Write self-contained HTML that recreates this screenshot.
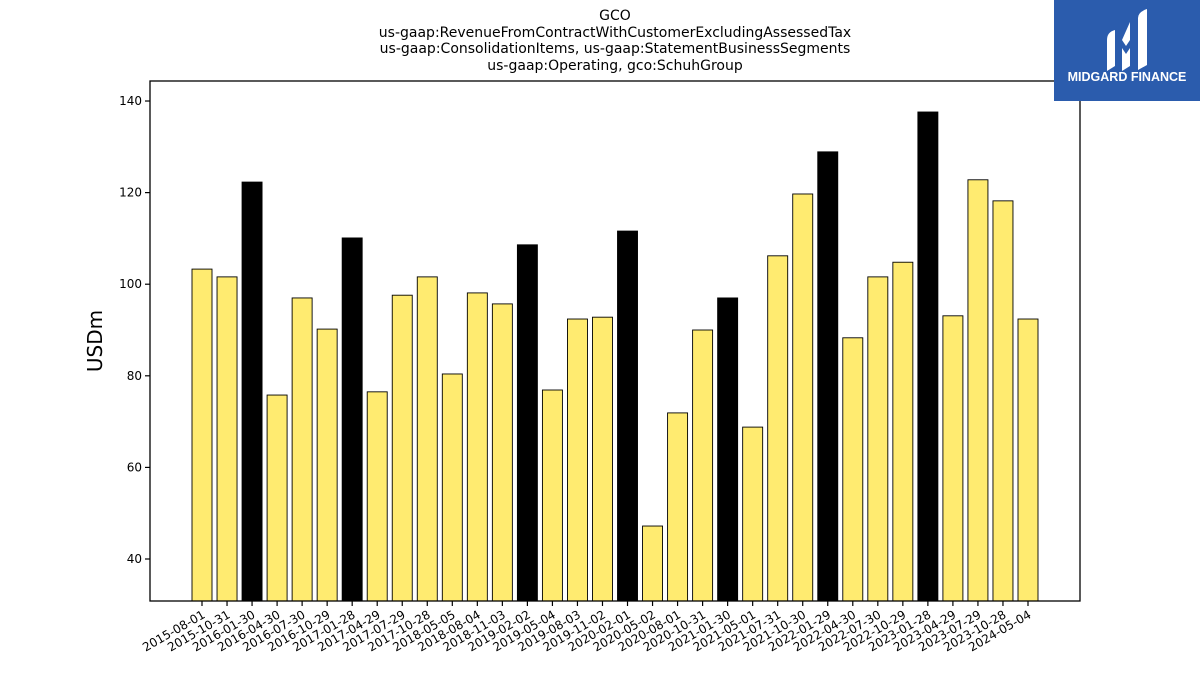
<!DOCTYPE html>
<html><head><meta charset="utf-8"><style>
body{margin:0;background:#fff;width:1200px;height:675px;overflow:hidden;font-family:"Liberation Sans","DejaVu Sans",sans-serif;}
</style></head><body>
<svg id="chart" width="1200" height="675" xmlns="http://www.w3.org/2000/svg" font-family="'DejaVu Sans','Liberation Sans',sans-serif">
<g font-size="14" text-anchor="middle" fill="#000">
<text x="615" y="20">GCO</text>
<text x="615" y="37">us-gaap:RevenueFromContractWithCustomerExcludingAssessedTax</text>
<text x="615" y="53">us-gaap:ConsolidationItems, us-gaap:StatementBusinessSegments</text>
<text x="615" y="70">us-gaap:Operating, gco:SchuhGroup</text>
</g>
<g id="plot"></g>
<rect x="150" y="81" width="930" height="520" fill="none" stroke="#000" stroke-width="1.3"/>
<text x="102" y="341" font-size="20" text-anchor="middle" transform="rotate(-90 102 341)">USDm</text>
<g>
<rect x="1054" y="0" width="146" height="101" fill="#2b5cad"/>
<path d="M1107 40 q0-8 8-10 v36 l-8 5z M1122 40 l8-18 v18 l-4 6z M1122 48 l4 6 4-6 v18 l-8 5z M1138 18 q0-6 9-9 v56 l-9 5z" fill="#fff"/>
<text x="1127" y="81" font-size="12.5" font-weight="bold" fill="#fff" text-anchor="middle" font-family="'Liberation Sans',sans-serif">MIDGARD FINANCE</text>
</g>
</svg>
<script>
const categories=["2015-08-01","2015-10-31","2016-01-30","2016-04-30","2016-07-30","2016-10-29","2017-01-28","2017-04-29","2017-07-29","2017-10-28","2018-05-05","2018-08-04","2018-11-03","2019-02-02","2019-05-04","2019-08-03","2019-11-02","2020-02-01","2020-05-02","2020-08-01","2020-10-31","2021-01-30","2021-05-01","2021-07-31","2021-10-30","2022-01-29","2022-04-30","2022-07-30","2022-10-29","2023-01-28","2023-04-29","2023-07-29","2023-10-28","2024-05-04"];
const values=[103.3,101.6,122.3,75.8,97.0,90.2,110.1,76.5,97.6,101.6,80.4,98.1,95.7,108.6,76.9,92.4,92.8,111.6,47.2,71.9,90.0,97.0,68.8,106.2,119.7,128.9,88.3,101.6,104.8,137.6,93.1,122.8,118.2,92.4];
const yTicks=[40,60,80,100,120,140];
const NS="http://www.w3.org/2000/svg";
const plotG=document.getElementById('plot');
const yMin=30.83,yMax=144.37,plotTop=81,plotBot=601;
function y(v){return plotBot-(v-yMin)/(yMax-yMin)*(plotBot-plotTop);}
function x(i){return 202+i*(1028-202)/(categories.length-1);}
function mk(t,a){const e=document.createElementNS(NS,t);for(const k in a)e.setAttribute(k,a[k]);plotG.appendChild(e);return e;}
yTicks.forEach(t=>{
 const l=mk('line',{x1:145,x2:150,y1:y(t),y2:y(t),stroke:'#000','stroke-width':1.2});
 
 
 const tx=mk('text',{x:142,y:y(t)+4,'font-size':12,'text-anchor':'end'});
 tx.textContent=t;
 
 
});
categories.forEach((c,i)=>{
 const m=c.slice(5,7);
 const q4=(m==='01'||m==='02');
 const b=mk('rect',{x:x(i)-10,y:y(values[i]),width:20,height:plotBot-y(values[i]),fill:q4?'#000':'#ffeb70',stroke:'#000','stroke-width':0.9});
 
 
 const t=mk('line',{x1:x(i),x2:x(i),y1:plotBot,y2:plotBot+5,stroke:'#000','stroke-width':1.2});
 
 
 const lx=x(i)+4,ly=plotBot+16;
 const tx=mk('text',{x:lx,y:ly,'font-size':12,'text-anchor':'end',transform:`rotate(-30 ${lx} ${ly})`});
 tx.textContent=c;
 
 
});
</script>
</body></html>
